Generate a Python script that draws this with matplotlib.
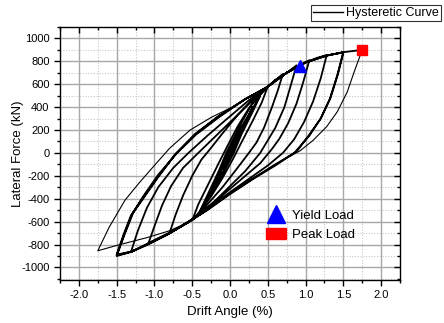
import matplotlib
matplotlib.use("Agg")
import matplotlib.pyplot as plt
from matplotlib.lines import Line2D
from matplotlib.patches import Patch
from matplotlib.ticker import MultipleLocator, FormatStrFormatter

plt.rcParams['font.family'] = ['Liberation Sans', 'DejaVu Sans']
plt.rcParams['axes.unicode_minus'] = False

# ---------------- data (drift %, force kN) ----------------
# small elastic cycles
loop_010 = [(0.0, 0), (0.05, 70), (0.1, 135), (0.05, 60), (0.0, -5), (-0.05, -75), (-0.1, -140), (-0.05, -70), (0.0, 0)]
loop_020 = [(0.1, 130), (0.2, 270), (0.12, 150), (0.03, 0), (-0.08, -150), (-0.2, -280), (-0.12, -160), (-0.03, 0), (0.08, 140)]
loop_030 = [(0.2, 265), (0.3, 400), (0.2, 250), (0.06, 50), (-0.1, -180), (-0.3, -410), (-0.2, -260), (-0.06, -50), (0.1, 170)]
loop_040 = [(0.3, 390), (0.4, 500), (0.3, 360), (0.15, 160), (0.05, 0), (-0.15, -250), (-0.4, -510), (-0.3, -370),
            (-0.15, -160), (-0.05, 0), (0.15, 260)]
loop_050 = [(0.3, 440), (0.4, 510), (0.5, 580), (0.42, 440), (0.3, 280), (0.15, 90), (0.05, -40), (-0.1, -220),
            (-0.25, -380), (-0.4, -510), (-0.5, -590), (-0.42, -450), (-0.3, -290), (-0.15, -90), (-0.05, 40),
            (0.1, 230), (0.25, 390), (0.4, 510), (0.5, 580)]
loop_070 = [(0.6, 635), (0.7, 690), (0.63, 540), (0.55, 390), (0.45, 220), (0.35, 90), (0.25, 0), (0.1, -130),
            (-0.1, -300), (-0.3, -450), (-0.45, -560), (-0.55, -605), (-0.65, -645), (-0.8, -700),
            (-0.72, -540), (-0.62, -370), (-0.5, -200), (-0.38, -60), (-0.28, 20), (-0.1, 170), (0.1, 330),
            (0.3, 470), (0.45, 560), (0.5, 580)]
loop_088 = [(0.6, 635), (0.75, 700), (0.88, 765), (0.8, 580), (0.72, 400), (0.6, 220), (0.5, 110), (0.4, 0),
            (0.2, -160), (0.0, -290), (-0.2, -420), (-0.4, -530), (-0.55, -605), (-0.75, -680), (-0.95, -745),
            (-1.08, -790), (-1.0, -640), (-0.9, -460), (-0.78, -290), (-0.62, -130), (-0.42, 0), (-0.2, 140),
            (0.05, 300), (0.3, 460), (0.5, 578)]
loop_105 = [(0.6, 635), (0.75, 700), (0.9, 760), (1.05, 810), (0.97, 620), (0.88, 430), (0.77, 260), (0.65, 120),
            (0.55, 30), (0.4, -90), (0.15, -230), (-0.1, -370), (-0.35, -510), (-0.55, -605), (-0.8, -700),
            (-1.08, -790), (-1.2, -830), (-1.31, -864), (-1.22, -680), (-1.1, -480), (-0.95, -300), (-0.75, -130),
            (-0.55, 0), (-0.3, 150), (0.0, 320), (0.25, 460), (0.5, 578)]
loop_128 = [(0.6, 635), (0.75, 700), (1.0, 790), (1.15, 830), (1.28, 855), (1.2, 650), (1.1, 450), (0.98, 270),
            (0.85, 120), (0.7, 0), (0.5, -110), (0.2, -250), (-0.1, -390), (-0.35, -520), (-0.55, -605),
            (-0.8, -700), (-1.08, -790), (-1.31, -866), (-1.5, -900), (-1.4, -720), (-1.28, -520), (-1.15, -380),
            (-0.95, -190), (-0.7, 0), (-0.45, 160), (-0.15, 310), (0.2, 470), (0.5, 578)]
loop_150a = [(0.75, 700), (1.0, 790), (1.28, 850), (1.5, 880), (1.42, 680), (1.32, 470), (1.2, 300), (1.05, 150),
             (0.85, 0), (0.6, -110), (0.3, -230), (0.0, -360), (-0.3, -500), (-0.55, -600), (-0.8, -700),
             (-1.1, -800), (-1.3, -860), (-1.5, -895), (-1.4, -710), (-1.3, -540), (-1.15, -400), (-0.95, -210),
             (-0.72, -10), (-0.45, 170), (-0.15, 320), (0.2, 470), (0.5, 578)]
loop_150b = [(0.75, 700), (1.0, 790), (1.28, 852), (1.5, 878), (1.43, 690), (1.33, 480), (1.2, 300), (1.05, 160),
             (0.88, 10), (0.6, -100), (0.3, -225), (0.0, -355), (-0.3, -495), (-0.55, -600), (-0.8, -705),
             (-1.1, -805), (-1.3, -862), (-1.5, -888), (-1.41, -715), (-1.31, -545), (-1.16, -400), (-0.96, -215),
             (-0.73, -15), (-0.46, 165), (-0.16, 318), (0.2, 468), (0.5, 578), (0.75, 700), (1.0, 790),
             (1.28, 850), (1.5, 880), (1.75, 900)]
loop_175 = [(1.75, 900), (1.65, 720), (1.55, 530), (1.42, 360), (1.28, 230), (1.1, 110), (0.93, 20), (0.6, -100),
            (0.26, -240), (-0.1, -400), (-0.4, -540), (-0.6, -620), (-0.8, -680), (-1.1, -740), (-1.5, -808),
            (-1.75, -855), (-1.6, -650), (-1.39, -413), (-1.2, -260), (-1.02, -124), (-0.8, 40), (-0.53, 199),
            (-0.25, 310), (0.0, 391)]

thick_loops = [loop_010, loop_020, loop_030, loop_040, loop_050, loop_070, loop_088, loop_105, loop_128,
               loop_150a, loop_150b]

yield_point = (0.92, 760)
peak_point = (1.75, 900)

x_ticks = [-2.0, -1.5, -1.0, -0.5, 0.0, 0.5, 1.0, 1.5, 2.0]
y_ticks = [-1000, -800, -600, -400, -200, 0, 200, 400, 600, 800, 1000]

# ---------------- figure ----------------
fig = plt.figure(figsize=(4.44, 3.23), dpi=100)
ax = fig.add_axes([60 / 444, 43 / 323, 340 / 444, 253 / 323])

path = []
for lp in thick_loops:
    path.extend(lp)
ax.plot([p[0] for p in path], [p[1] for p in path], color='black', lw=1.3, zorder=3)
ax.plot([p[0] for p in loop_175], [p[1] for p in loop_175], color='black', lw=0.8, zorder=3)

ax.plot([yield_point[0]], [yield_point[1]], marker='^', color='#0000ff', ms=8, ls='none', zorder=5)
ax.plot([peak_point[0]], [peak_point[1]], marker='s', color='#ff0000', ms=6.5, ls='none', zorder=5)

ax.set_xlim(-2.25, 2.25)
ax.set_ylim(-1110, 1100)
ax.set_xticks(x_ticks)
ax.set_yticks(y_ticks)
ax.xaxis.set_major_formatter(FormatStrFormatter('%.1f'))
ax.xaxis.set_minor_locator(MultipleLocator(0.25))
ax.yaxis.set_minor_locator(MultipleLocator(100))

ax.grid(which='major', color='#a8a8a8', lw=1.0, ls='-', zorder=0)
ax.grid(which='minor', color='#c8c8c8', lw=0.8, ls=(0, (1, 1.5)), zorder=0)
ax.set_axisbelow(True)

for s in ax.spines.values():
    s.set_linewidth(1.0)
ax.tick_params(which='both', labelsize=8, width=1.0, direction='out')
ax.tick_params(which='major', length=4)
ax.tick_params(which='minor', length=2.5)
ax.tick_params(axis='x', which='both', top=True)
ax.tick_params(axis='y', which='both', right=True)
# ticks on top/right point inward
for t in ax.xaxis.get_major_ticks() + ax.xaxis.get_minor_ticks():
    t.tick2line.set_marker(3)
for t in ax.yaxis.get_major_ticks() + ax.yaxis.get_minor_ticks():
    t.tick2line.set_marker(0)

ax.set_xlabel('Drift Angle (%)', fontsize=9.5, labelpad=4)
ax.set_ylabel('Lateral Force (kN)', fontsize=9.5)
ax.yaxis.set_label_coords((24 - 60) / 340, 0.5)

# top legend
h1 = Line2D([], [], color='black', lw=1.0)
fig.legend([h1], ['Hysteretic Curve'], loc='upper right', bbox_to_anchor=(441 / 444, 1 - 5 / 323),
           frameon=True, fancybox=False, edgecolor='black', fontsize=9, borderpad=0.15,
           handlelength=2.4, handletextpad=0.3, borderaxespad=0).get_frame().set_linewidth(0.8)

# marker legend
h2 = Line2D([], [], marker='^', color='#0000ff', ms=13, ls='none')
h3 = Patch(facecolor='#ff0000', edgecolor='#ff0000')
ax.legend([h2, h3], ['Yield Load', 'Peak Load'], loc='upper left',
          bbox_to_anchor=((266 - 60) / 340, (296 - 225) / 253), frameon=False, fontsize=9.5,
          handlelength=1.5, handleheight=0.9, handletextpad=0.5, labelspacing=0.45, borderpad=0, borderaxespad=0)

fig.savefig('out.png', dpi=100)
